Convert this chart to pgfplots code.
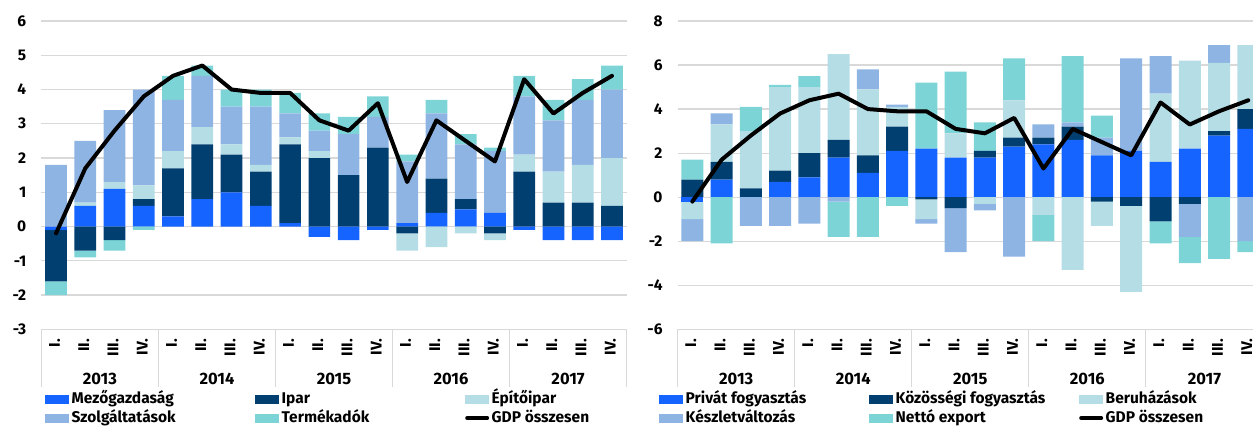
\documentclass[border=0pt]{standalone}
\usepackage{fontspec}
\setmainfont{Fira Sans}
\usepackage{pgfplots}
\usepackage{pgfplotstable}
\pgfplotsset{compat=1.18}

\definecolor{c1}{RGB}{22,100,255}
\definecolor{c2}{RGB}{0,63,112}
\definecolor{c3}{RGB}{181,221,230}
\definecolor{c4}{RGB}{142,180,227}
\definecolor{c5}{RGB}{125,212,214}
\definecolor{gridgray}{RGB}{217,217,217}

\newcommand{\lbl}{\bfseries\fontsize{15.5bp}{18bp}\selectfont}
\newcommand{\yr}{\bfseries\fontsize{16.5bp}{19bp}\selectfont}

% Left: Mezogazdasag, Ipar, Epitoipar, Szolgaltatasok, Termekadok, GDP
\pgfplotstableread{
x a b c d e g
0 -0.1 -1.5 0.0 1.8 -0.4 -0.2
1 0.6 -0.7 0.1 1.8 -0.2 1.7
2 1.1 -0.4 0.2 2.1 -0.3 2.8
3 0.6 0.2 0.4 2.8 -0.1 3.8
4 0.3 1.4 0.5 1.5 0.7 4.4
5 0.8 1.6 0.5 1.5 0.3 4.7
6 1.0 1.1 0.3 1.1 0.5 4.0
7 0.6 1.0 0.2 1.7 0.5 3.9
8 0.1 2.3 0.2 0.7 0.6 3.9
9 -0.3 2.0 0.2 0.6 0.5 3.1
10 -0.4 1.5 0.0 1.2 0.5 2.8
11 -0.1 2.3 0.0 0.9 0.6 3.6
12 0.1 -0.2 -0.5 1.8 0.2 1.3
13 0.4 1.0 -0.6 1.9 0.4 3.1
14 0.5 0.3 -0.2 1.6 0.3 2.5
15 0.4 -0.2 -0.2 1.8 0.1 1.9
16 -0.1 1.6 0.5 1.7 0.6 4.3
17 -0.4 0.7 0.9 1.5 0.6 3.3
18 -0.4 0.7 1.1 1.9 0.6 3.9
19 -0.4 0.6 1.4 2.0 0.7 4.4
}\datL

% Right: Privat, Kozossegi, Beruhazasok, Keszletvaltozas, Netto export, GDP
\pgfplotstableread{
x a b c d e g
0 -0.2 0.8 -0.8 -1.0 0.9 -0.2
1 0.8 0.8 1.7 0.5 -2.1 1.7
2 0.0 0.4 2.6 -1.3 1.1 2.8
3 0.7 0.5 3.8 -1.3 0.1 3.8
4 0.9 1.1 3.0 -1.2 0.5 4.4
5 1.8 0.8 3.9 -0.2 -1.6 4.7
6 1.1 0.8 3.0 0.9 -1.8 4.0
7 2.1 1.1 0.9 0.1 -0.4 3.9
8 2.2 -0.1 -0.9 -0.2 3.0 3.9
9 1.8 -0.5 1.1 -2.0 2.8 3.1
10 1.8 0.3 -0.3 -0.3 1.3 2.9
11 2.3 0.4 1.7 -2.7 1.9 3.6
12 2.4 0.3 -0.8 0.6 -1.2 1.3
13 2.6 0.6 -3.3 0.2 3.0 3.1
14 1.9 -0.2 -1.1 0.8 1.0 2.5
15 2.1 -0.4 -3.9 4.2 0.0 1.9
16 1.6 -1.1 3.1 1.7 -1.0 4.3
17 2.2 -0.3 4.0 -1.5 -1.2 3.3
18 2.8 0.2 3.1 0.8 -2.8 3.9
19 3.1 0.9 2.9 -2.0 -0.5 4.4
}\datR

\pgfplotsset{
  panel/.style={scale only axis, width=585.2bp, height=308.3bp, anchor=south west,
    xmin=-0.5, xmax=19.5, clip=false},
  frame/.style={panel,
    ymajorgrids, grid style={gridgray, line width=1.2bp},
    axis line style={draw=none},
    xtick={0,...,19},
    xticklabels={I.,II.,III.,IV.,I.,II.,III.,IV.,I.,II.,III.,IV.,I.,II.,III.,IV.,I.,II.,III.,IV.},
    xtick pos=bottom, ytick pos=left,
    major tick length=0pt,
    tick label style={font=\lbl},
    xticklabel style={yshift=-9.5bp, xshift=-1.5bp, rotate=90, anchor=east, inner sep=0pt},
    yticklabel style={anchor=east, inner sep=0pt, xshift=-15bp},
    /pgf/number format/assume math mode=true,
    extra x ticks={-0.5,3.5,7.5,11.5,15.5,19.5}, extra x tick labels={},
    extra x tick style={major tick length=57.5bp, tick align=outside,
      major tick style={draw=gridgray, line width=1.2bp}},
  },
  swatch/.style={legend image code/.code={\fill[##1] (0bp,-4.5bp) rectangle (24bp,4.5bp);}},
  gdpimg/.style={legend image code/.code={\draw[##1] (2bp,0bp) -- (22bp,0bp);}},
  leg/.style={legend columns=3, legend cell align=left,
    legend style={draw=none, fill=none, at={(axis description cs:0,0)}, anchor=north west,
      xshift=#1, yshift=-60.5bp, inner sep=0pt, row sep=0pt, column sep=0pt,
      nodes={inner xsep=2.5bp, inner ysep=2.1bp, text height=11.5bp, text depth=3bp, font=\lbl}}},
  gdpline/.style={black, line width=4bp, line join=round, line cap=round},
}

\begin{document}
\begin{tikzpicture}
\useasboundingbox (0,0) rectangle (1253bp,437bp);
\clip (0,0) rectangle (1253bp,437bp);

%%%%%%%%%%%%%%%% LEFT PANEL
\begin{axis}[frame, at={(41.4bp,107.7bp)}, ymin=-3, ymax=6, ytick={-3,...,6},
  ybar stacked, bar width=21.7bp]
\addplot[fill=c1, draw=none] table[x=x, y expr={max(\thisrow{a},0)}]{\datL};
\addplot[fill=c2, draw=none] table[x=x, y expr={max(\thisrow{b},0)}]{\datL};
\addplot[fill=c3, draw=none] table[x=x, y expr={max(\thisrow{c},0)}]{\datL};
\addplot[fill=c4, draw=none] table[x=x, y expr={max(\thisrow{d},0)}]{\datL};
\addplot[fill=c5, draw=none] table[x=x, y expr={max(\thisrow{e},0)}]{\datL};
\node[font=\yr, yshift=-49.7bp] at (axis cs:1.5,-3) {2013};
\node[font=\yr, yshift=-49.7bp] at (axis cs:5.5,-3) {2014};
\node[font=\yr, yshift=-49.7bp] at (axis cs:9.5,-3) {2015};
\node[font=\yr, yshift=-49.7bp] at (axis cs:13.5,-3) {2016};
\node[font=\yr, yshift=-49.7bp] at (axis cs:17.5,-3) {2017};
\end{axis}
\begin{axis}[panel, hide axis, at={(41.4bp,107.7bp)}, ymin=-3, ymax=6,
  ybar stacked, bar width=21.7bp]
\addplot[fill=c1, draw=none] table[x=x, y expr={min(\thisrow{a},0)}]{\datL};
\addplot[fill=c2, draw=none] table[x=x, y expr={min(\thisrow{b},0)}]{\datL};
\addplot[fill=c3, draw=none] table[x=x, y expr={min(\thisrow{c},0)}]{\datL};
\addplot[fill=c4, draw=none] table[x=x, y expr={min(\thisrow{d},0)}]{\datL};
\addplot[fill=c5, draw=none] table[x=x, y expr={min(\thisrow{e},0)}]{\datL};
\end{axis}
\begin{axis}[panel, hide axis, at={(41.4bp,107.7bp)}, ymin=-3, ymax=6, leg=3.6bp]
\addlegendimage{swatch, fill=c1, draw=none}
\addlegendentry{\makebox[181bp][l]{Mezőgazdaság}}
\addlegendimage{swatch, fill=c2, draw=none}
\addlegendentry{\makebox[181bp][l]{Ipar}}
\addlegendimage{swatch, fill=c3, draw=none}
\addlegendentry{Építőipar}
\addlegendimage{swatch, fill=c4, draw=none}
\addlegendentry{\makebox[181bp][l]{Szolgáltatások}}
\addlegendimage{swatch, fill=c5, draw=none}
\addlegendentry{\makebox[181bp][l]{Termékadók}}
\addplot[gdpline, gdpimg] table[x=x, y=g]{\datL};
\addlegendentry{GDP összesen}
\end{axis}

%%%%%%%%%%%%%%%% RIGHT PANEL
\begin{axis}[frame, at={(677.7bp,107.7bp)}, ymin=-6, ymax=8, ytick={-6,-4,...,8},
  ybar stacked, bar width=22bp]
\addplot[fill=c1, draw=none] table[x=x, y expr={max(\thisrow{a},0)}]{\datR};
\addplot[fill=c2, draw=none] table[x=x, y expr={max(\thisrow{b},0)}]{\datR};
\addplot[fill=c3, draw=none] table[x=x, y expr={max(\thisrow{c},0)}]{\datR};
\addplot[fill=c4, draw=none] table[x=x, y expr={max(\thisrow{d},0)}]{\datR};
\addplot[fill=c5, draw=none] table[x=x, y expr={max(\thisrow{e},0)}]{\datR};
\node[font=\yr, yshift=-49.7bp] at (axis cs:1.5,-6) {2013};
\node[font=\yr, yshift=-49.7bp] at (axis cs:5.5,-6) {2014};
\node[font=\yr, yshift=-49.7bp] at (axis cs:9.5,-6) {2015};
\node[font=\yr, yshift=-49.7bp] at (axis cs:13.5,-6) {2016};
\node[font=\yr, yshift=-49.7bp] at (axis cs:17.5,-6) {2017};
\end{axis}
\begin{axis}[panel, hide axis, at={(677.7bp,107.7bp)}, ymin=-6, ymax=8,
  ybar stacked, bar width=22bp]
\addplot[fill=c1, draw=none] table[x=x, y expr={min(\thisrow{a},0)}]{\datR};
\addplot[fill=c2, draw=none] table[x=x, y expr={min(\thisrow{b},0)}]{\datR};
\addplot[fill=c3, draw=none] table[x=x, y expr={min(\thisrow{c},0)}]{\datR};
\addplot[fill=c4, draw=none] table[x=x, y expr={min(\thisrow{d},0)}]{\datR};
\addplot[fill=c5, draw=none] table[x=x, y expr={min(\thisrow{e},0)}]{\datR};
\end{axis}
\begin{axis}[panel, hide axis, at={(677.7bp,107.7bp)}, ymin=-6, ymax=8, leg=-18.7bp]
\addlegendimage{swatch, fill=c1, draw=none}
\addlegendentry{\makebox[181bp][l]{Privát fogyasztás}}
\addlegendimage{swatch, fill=c2, draw=none}
\addlegendentry{\makebox[181bp][l]{Közösségi fogyasztás}}
\addlegendimage{swatch, fill=c3, draw=none}
\addlegendentry{Beruházások}
\addlegendimage{swatch, fill=c4, draw=none}
\addlegendentry{\makebox[181bp][l]{Készletváltozás}}
\addlegendimage{swatch, fill=c5, draw=none}
\addlegendentry{\makebox[181bp][l]{Nettó export}}
\addplot[gdpline, gdpimg] table[x=x, y=g]{\datR};
\addlegendentry{GDP összesen}
\end{axis}
\end{tikzpicture}
\end{document}
